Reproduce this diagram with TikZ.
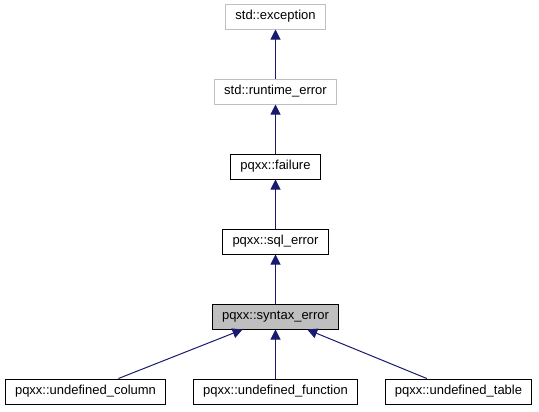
\documentclass[tikz,border=0pt]{standalone}
\usepackage{fontspec}
\setmainfont{Liberation Sans}
\usepackage{xcolor}
\usetikzlibrary{arrows.meta}
\definecolor{edgeblue}{HTML}{191970}
\definecolor{boxgray}{HTML}{BFBFBF}

\begin{document}
\begin{tikzpicture}[x=0.75pt,y=-0.75pt,
    cls/.style={draw=black,line width=0.75pt,minimum height=18.75pt,
      inner xsep=7.2pt,inner ysep=0pt,font=\fontsize{9.75}{11}\selectfont},
    extcls/.style={cls,draw=boxgray},
    curcls/.style={cls,fill=boxgray},
    edge/.style={draw=edgeblue,line width=0.75pt,
      -{Triangle[length=7.5pt,width=7.5pt]}}]
  \useasboundingbox (0,0) rectangle (539,411);
  \def\cx{275.5}
  \def\gap{75}
  % inheritance chain
  \node[extcls] (exc)  at (\cx,16.5)        {std::exception};
  \node[extcls] (rt)   at (\cx,16.5+\gap)   {std::runtime\_error};
  \node[cls]    (fail) at (\cx,16.5+2*\gap) {pqxx::failure};
  \node[cls]    (sql)  at (\cx,16.5+3*\gap) {pqxx::sql\_error};
  \node[curcls] (syn)  at (\cx,16.5+4*\gap) {pqxx::syntax\_error};
  % derived classes
  \node[cls] (col) at (85.5,16.5+5*\gap)  {pqxx::undefined\_column};
  \node[cls] (fun) at (\cx,16.5+5*\gap)   {pqxx::undefined\_function};
  \node[cls] (tab) at (458.5,16.5+5*\gap) {pqxx::undefined\_table};
  \foreach \a/\b in {rt/exc,fail/rt,sql/fail,syn/sql,col/syn,fun/syn,tab/syn}
    \draw[edge] (\a) -- (\b);
\end{tikzpicture}
\end{document}
